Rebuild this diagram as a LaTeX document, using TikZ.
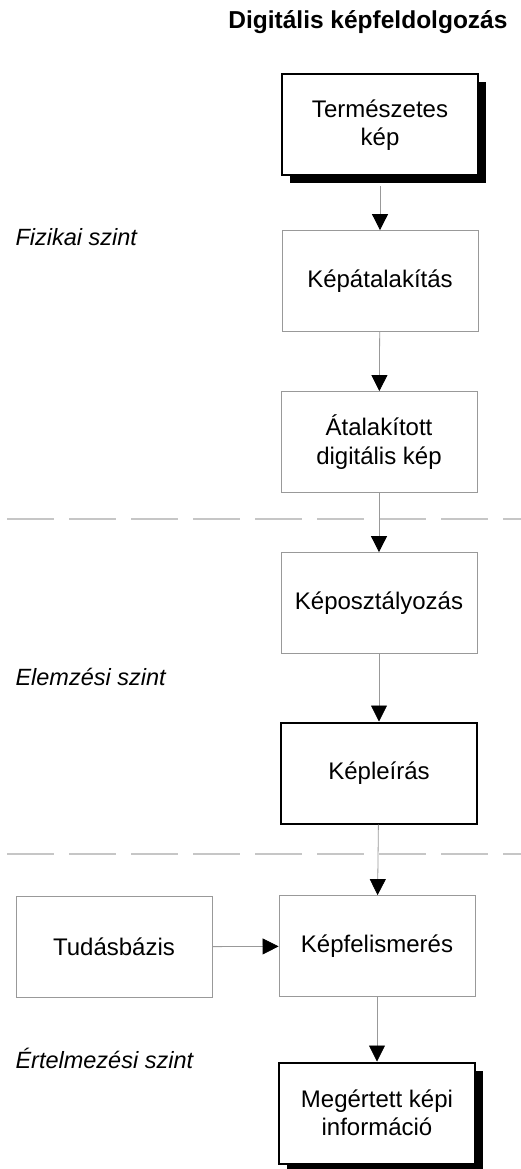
\documentclass[tikz,border=0pt]{standalone}
\usepackage{fontspec}
\setmainfont{Liberation Sans}
\usetikzlibrary{arrows.meta,shadows}

\begin{document}
\begin{tikzpicture}[
  x=1pt, y=-1pt,
  font=\fontsize{24}{28.5}\selectfont,
  lepes/.style={draw=gray!80, line width=0.8pt, fill=white,
    minimum width=196pt, minimum height=101pt,
    align=center, inner sep=2pt},
  kiemelt/.style={lepes, draw=black, line width=2pt},
  arnyekos/.style={kiemelt,
    drop shadow={shadow xshift=8pt, shadow yshift=-8pt,
      fill=black, opacity=1}},
  nyil/.style={draw=gray!80, line width=0.8pt,
    -{Triangle[width=16pt, length=16pt, color=black]}},
  szint/.style={anchor=west, font=\fontsize{23.5}{28}\selectfont\itshape},
  hatar/.style={draw=gray!45, line width=1.2pt, dash pattern=on 47pt off 15pt}
]

  % Keret
  \useasboundingbox (0,0) rectangle (521,1169);

  % Cim
  \node[anchor=east, font=\fontsize{24.5}{29}\selectfont\bfseries]
    (cim) at (511,22) {Digitális képfeldolgozás};

  % Szintek
  \node[szint] (fizikai) at (12,237) {Fizikai szint};
  \node[szint] (elemzesi) at (12,677) {Elemzési szint};
  \node[szint] (ertelmezesi) at (12,1058) {Értelmezési szint};

  % Szinthatarok
  \draw[hatar]
    (7,519) -- (521,519);

  \draw[hatar]
    (7,854) -- (521,854);

  % Lepesek
  \node[arnyekos] (termeszetes) at (380,125) {Természetes\\kép};
  \node[lepes] (atalakitas) at (380,281) {Képátalakítás};
  \node[lepes] (digitalis) at (379,442) {Átalakított\\digitális kép};
  \node[lepes] (osztalyozas) at (379,603) {Képosztályozás};
  \node[kiemelt] (leiras) at (379,773) {Képleírás};
  \node[lepes] (felismeres) at (377,946) {Képfelismerés};
  \node[lepes] (tudasbazis) at (114,947) {Tudásbázis};
  \node[arnyekos] (megertett) at (377,1113) {Megértett képi\\információ};

  % Nyilak
  \draw[nyil]
    ([yshift=-10pt]termeszetes.south) -- (atalakitas);

  \draw[nyil]
    (atalakitas) -- (digitalis);

  \draw[nyil]
    (digitalis) -- (osztalyozas);

  \draw[nyil]
    (osztalyozas) -- (leiras);

  \draw[nyil]
    (leiras) -- (felismeres);

  \draw[nyil]
    (tudasbazis) -- (felismeres);

  \draw[nyil]
    (felismeres) -- (megertett);

\end{tikzpicture}
\end{document}
